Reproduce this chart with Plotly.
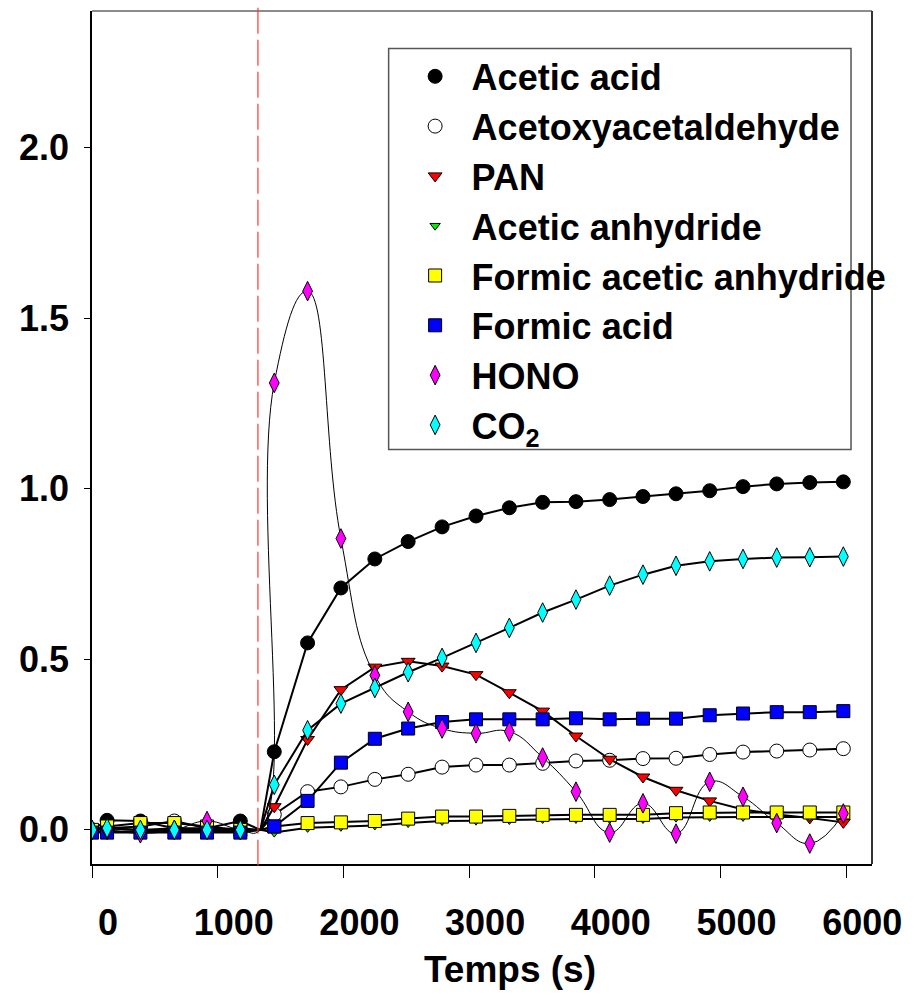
import plotly.graph_objects as go

# Sampling times (s); the unmarked point at 1340 s is where every series restarts from zero
times = [0, 120, 385, 655, 915, 1180, 1340, 1450, 1715, 1980, 2250, 2515, 2785,
         3055, 3320, 3585, 3850, 4118, 4383, 4646, 4914, 5179, 5447, 5710, 5977]
t_reset = 1340
t_injection = 1320

acetic_acid = [0.0, 0.028, 0.026, 0.005, 0.005, 0.026, 0.0, 0.229, 0.548, 0.709, 0.794,
               0.845, 0.888, 0.920, 0.944, 0.960, 0.962, 0.968, 0.977, 0.985, 0.994,
               1.006, 1.014, 1.018, 1.020]
acetoxyacetaldehyde = [0.0, 0.005, 0.01, 0.026, 0.005, 0.0, 0.0, 0.045, 0.112, 0.126,
                       0.148, 0.163, 0.184, 0.190, 0.190, 0.195, 0.202, 0.204, 0.209,
                       0.210, 0.221, 0.228, 0.231, 0.234, 0.238]
pan = [0.0, 0.005, 0.0, 0.005, 0.0, 0.005, 0.0, 0.068, 0.265, 0.411, 0.477, 0.494, 0.480,
       0.455, 0.402, 0.348, 0.275, 0.207, 0.155, 0.116, 0.085, 0.060, 0.045, 0.035, 0.022]
acetic_anhydride = [-0.005, -0.005, -0.005, -0.005, -0.005, -0.005, 0.0, -0.008, 0.006,
                    0.009, 0.013, 0.020, 0.026, 0.027, 0.029, 0.032, 0.032, 0.032, 0.032,
                    0.036, 0.038, 0.038, 0.038, 0.038, 0.038]
formic_acetic_anhydride = [0.0, 0.01, 0.02, 0.02, 0.01, 0.0, 0.0, 0.01, 0.020, 0.022,
                           0.026, 0.033, 0.039, 0.039, 0.041, 0.044, 0.044, 0.044, 0.044,
                           0.049, 0.051, 0.051, 0.051, 0.051, 0.051]
formic_acid = [-0.008, -0.008, -0.008, -0.008, -0.008, -0.008, 0.0, 0.010, 0.085, 0.197,
               0.267, 0.297, 0.316, 0.324, 0.324, 0.324, 0.327, 0.324, 0.326, 0.326,
               0.336, 0.341, 0.345, 0.345, 0.348]
hono = [0.0, 0.0, -0.01, 0.0, 0.026, 0.0, 0.0, 1.310, 1.579, 0.854, 0.453, 0.346, 0.297,
        0.283, 0.288, 0.212, 0.112, -0.008, 0.078, -0.011, 0.141, 0.097, 0.020, -0.040,
        0.048]
co2 = [0.0, 0.005, 0.0, 0.0, 0.0, 0.0, 0.0, 0.132, 0.292, 0.370, 0.416, 0.462, 0.504,
       0.548, 0.592, 0.637, 0.675, 0.716, 0.748, 0.774, 0.787, 0.794, 0.798, 0.799, 0.801]

x_ticks = [0, 1000, 2000, 3000, 4000, 5000, 6000]
y_ticks = [0.0, 0.5, 1.0, 1.5, 2.0]

series = [
    ("Acetic acid", acetic_acid, "circle", "#000000", 14, "linear", 2),
    ("Acetoxyacetaldehyde", acetoxyacetaldehyde, "circle", "#ffffff", 14, "linear", 2),
    ("PAN", pan, "triangle-down", "#ff0000", 12, "linear", 2),
    ("Acetic anhydride", acetic_anhydride, "triangle-down", "#00ee00", 9, "linear", 2),
    ("Formic acetic anhydride", formic_acetic_anhydride, "square", "#ffff00", 13, "linear", 2),
    ("Formic acid", formic_acid, "square", "#0000ff", 13, "linear", 2),
    ("HONO", hono, "diamond-tall", "#ff00ff", 14, "spline", 1),
    ("CO<sub>2</sub>", co2, "diamond-tall", "#00ffff", 14, "linear", 2),
]

FONT = "Liberation Sans, Arial, sans-serif"

fig = go.Figure()
for name, values, symbol, color, size, shape, width in series:
    line = dict(color="black", width=width, shape=shape)
    if shape == "spline":
        line["smoothing"] = 1.3
    fig.add_trace(go.Scatter(x=times, y=values, mode="lines", line=line,
                             showlegend=False, hoverinfo="skip"))
    mx = [t for t in times if t != t_reset]
    my = [v for t, v in zip(times, values) if t != t_reset]
    fig.add_trace(go.Scatter(
        x=mx, y=my, mode="markers", name=name,
        marker=dict(symbol=symbol, size=size, color=color,
                    line=dict(color="black", width=1)),
    ))

axis_font = dict(family=FONT, size=36, color="black", weight="bold")

fig.update_xaxes(
    range=[0, 6205], tickvals=x_ticks, ticks="outside", ticklen=12, tickwidth=1,
    tickcolor="black", showline=True, linecolor="black", linewidth=1.5,
    showgrid=False, zeroline=False, tickfont=axis_font, ticklabelshift=16,
    ticklabelstandoff=14,
)
fig.update_yaxes(
    range=[-0.1, 2.4], tickvals=y_ticks, tickformat=".1f", ticks="outside", ticklen=6,
    tickwidth=1, tickcolor="black", showline=True, linecolor="black", linewidth=1.5,
    showgrid=False, zeroline=False, tickfont=axis_font, ticklabelstandoff=8,
)

shapes = [
    # top and right edges of the frame
    dict(type="line", xref="paper", yref="paper", x0=0, x1=1, y0=1, y1=1,
         line=dict(color="#666666", width=1.5)),
    dict(type="line", xref="paper", yref="paper", x0=1, x1=1, y0=0, y1=1,
         line=dict(color="#333333", width=2)),
    # injection time marker
    dict(type="line", xref="x", yref="paper", x0=t_injection, x1=t_injection,
         y0=-0.002, y1=1.006, line=dict(color="rgba(255,50,50,0.9)", width=1.3,
                                        dash="26px,6px")),
    # legend frame
    dict(type="rect", xref="paper", yref="paper", x0=0.3803, x1=0.9731, y0=0.486,
         y1=0.956, line=dict(color="#555555", width=1.5), fillcolor="rgba(0,0,0,0)"),
]

fig.update_layout(
    width=924, height=995,
    margin=dict(l=92, r=52, t=11, b=131, autoexpand=False),
    paper_bgcolor="white", plot_bgcolor="white",
    shapes=shapes,
    showlegend=True,
    legend=dict(x=0.3931, y=0.9585, xanchor="left", yanchor="top",
                bgcolor="rgba(0,0,0,0)", borderwidth=0, itemwidth=63,
                font=dict(family=FONT, size=36, color="black", weight="bold"),
                itemclick=False, itemdoubleclick=False),
    annotations=[dict(text="Temps (s)", xref="paper", yref="paper", x=0.5363,
                      y=-0.1242, xanchor="center", yanchor="middle", showarrow=False,
                      font=dict(family=FONT, size=37, color="black", weight="bold"))],
)

fig.write_html("out.html")
